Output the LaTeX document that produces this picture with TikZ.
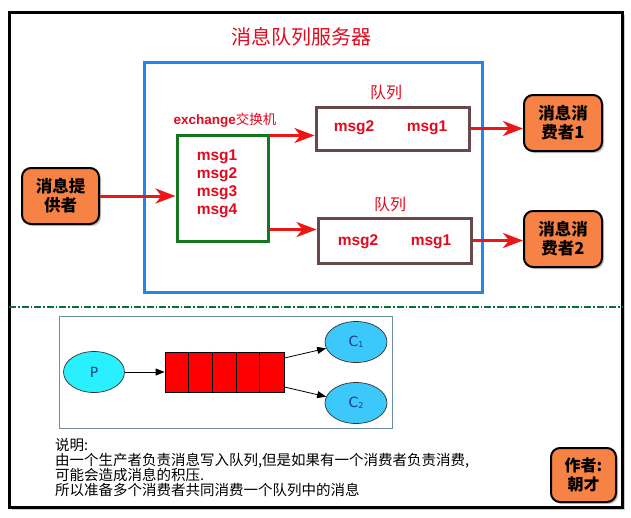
\documentclass[tikz,border=0pt]{standalone}
\usepackage{fontspec}
\setmainfont{Noto Sans CJK SC}
\newfontfamily\lat{Liberation Sans}
\newfontfamily\dv{DejaVu Sans}
\usetikzlibrary{arrows.meta,shapes.geometric,shadows}
\definecolor{msgred}{RGB}{226,10,30}
\definecolor{arrred}{RGB}{236,22,22}
\definecolor{srvblue}{RGB}{36,134,232}
\definecolor{exgreen}{RGB}{22,118,30}
\definecolor{qbrown}{RGB}{104,72,72}
\definecolor{orangefill}{RGB}{247,130,70}
\definecolor{sepgreen}{RGB}{10,110,60}
\definecolor{pcyan}{RGB}{40,240,255}
\definecolor{cblue}{RGB}{60,200,250}
\definecolor{imgborder}{RGB}{110,140,165}
\definecolor{ptext}{RGB}{30,60,130}
\begin{document}
\begin{tikzpicture}[x=1pt,y=-1pt,
  frame/.style={draw=black,line width=3pt,fill=white,rectangle,inner sep=0pt,
    drop shadow={shadow xshift=3pt,shadow yshift=-3pt,fill=black!40}},
  boxline/.style={rectangle,inner sep=0pt,line width=3pt},
  orangebox/.style={rectangle,rounded corners=9pt,draw=black,line width=2pt,fill=orangefill,
    inner sep=0pt,align=center,text=black,
    font=\bfseries\fontsize{16.5}{19}\selectfont,
    drop shadow={shadow xshift=2pt,shadow yshift=-2pt,fill=black!45}},
  msgtxt/.style={text=msgred,inner sep=0pt,font=\lat\bfseries\fontsize{15.5}{18}\selectfont},
  qlabel/.style={text=msgred,inner sep=0pt,font=\fontsize{16}{16}\selectfont},
  redarrow/.style={draw=arrred,line width=3pt,-{Stealth[length=20pt,width=15pt,inset=6pt]}},
  blkarrow/.style={draw=black,line width=0.8pt,-{Triangle[length=9pt,width=7pt]}},
  ell/.style={ellipse,draw=black!80,line width=0.7pt,minimum width=61pt,minimum height=41pt,inner sep=0pt,
    text=ptext,font=\dv\fontsize{14}{14}\selectfont},
  bodytxt/.style={anchor=base west,inner sep=0pt,text=black,font=\fontsize{14.5}{15}\selectfont}
]
\useasboundingbox (0,0) rectangle (631,517);
\fill[white] (0,0) rectangle (631,517);

% outer frame
\node[frame,minimum width=613pt,minimum height=495pt] (frame) at (315.5,259.5) {};

% title
\node[text=msgred,inner sep=0pt,font=\fontsize{20}{20}\selectfont] (title) at (301,37) {消息队列服务器};

% server box
\node[boxline,draw=srvblue,minimum width=338pt,minimum height=230pt] (server) at (313,177) {};

% exchange
\node[boxline,draw=exgreen,minimum width=91pt,minimum height=106pt] (exch) at (222.5,188) {};
\node[text=msgred,inner sep=0pt,font=\fontsize{13.5}{14}\selectfont] (exlabel) at (225,120) {{\lat\bfseries exchange}交换机};
\node[msgtxt,align=left] (exmsgs) at (217,184) {msg1\\msg2\\msg3\\msg4};

% queues
\node[boxline,draw=qbrown,minimum width=153pt,minimum height=43pt] (q1) at (392.5,128.5) {};
\node[qlabel] (q1label) at (386,92) {队列};
\node[msgtxt] (q1m2) at (354,128) {msg2};
\node[msgtxt] (q1m1) at (427,128) {msg1};

\node[boxline,draw=qbrown,minimum width=153pt,minimum height=45pt] (q2) at (394.5,240.5) {};
\node[qlabel] (q2label) at (390,204) {队列};
\node[msgtxt] (q2m2) at (358,242) {msg2};
\node[msgtxt] (q2m1) at (431,242) {msg1};

% producer / consumers
\node[orangebox,minimum width=77pt,minimum height=56pt] (prov) at (60.5,196) {消息提\\供者};
\node[orangebox,minimum width=78pt,minimum height=56pt] (c1) at (563,123) {消息消\\费者1};
\node[orangebox,minimum width=78pt,minimum height=56pt] (c2) at (563,239) {消息消\\费者2};

% red arrows
\draw[redarrow] (prov.east) -- (prov.east -| exch.west);
\draw[redarrow] (exch.north east) ++(0,2) coordinate (e1) -- (e1 -| q1.west);
\draw[redarrow] (exch.south east) ++(0,-13) coordinate (e2) -- (e2 -| q2.west);
\draw[redarrow] (q1.east) -- (q1.east -| c1.west);
\draw[redarrow] (q2.east) -- (q2.east -| c2.west);

% separator
\draw[sepgreen,line width=2.2pt,dash pattern=on 7pt off 2pt on 1.5pt off 2pt] (9,307) -- (622,307);

% lower diagram
\node[rectangle,draw=imgborder,line width=0.8pt,fill=white,minimum width=333pt,minimum height=112pt,inner sep=0pt] (img) at (225.5,372) {};
\node[ell,fill=pcyan] (P) at (94,372) {P};
\node[rectangle,draw=black,line width=0.8pt,fill=red,minimum width=119pt,minimum height=40pt,inner sep=0pt] (queue) at (224.5,372) {};
\foreach \i in {1,...,4} \draw[black,line width=0.8pt] (queue.north west) ++(\i*23.8,0) -- ++(0,40);
\node[ell,fill=cblue,minimum width=62pt] (C1) at (356,342) {C\raisebox{-1.5pt}{\fontsize{8}{8}\selectfont 1}};
\node[ell,fill=cblue,minimum width=62pt] (C2) at (356,403) {C\raisebox{-1.5pt}{\fontsize{8}{8}\selectfont 2}};
\draw[blkarrow] (P.east) -- (queue.west);
\draw[blkarrow] ([yshift=14pt]queue.east) -- (C1.192);
\draw[blkarrow] ([yshift=-15pt]queue.east) -- (C2.168);

% description
\node[bodytxt] (l1) at (55,450) {说明:};
\node[bodytxt] (l2) at (55,465) {由一个生产者负责消息写入队列,但是如果有一个消费者负责消费,};
\node[bodytxt] (l3) at (55,480) {可能会造成消息的积压.};
\node[bodytxt] (l4) at (55,495) {所以准备多个消费者共同消费一个队列中的消息};

% author
\node[orangebox,minimum width=65pt,minimum height=54pt,font=\bfseries\fontsize{16}{19}\selectfont] (author) at (583.5,475) {作者:\\朝才};
\end{tikzpicture}
\end{document}
